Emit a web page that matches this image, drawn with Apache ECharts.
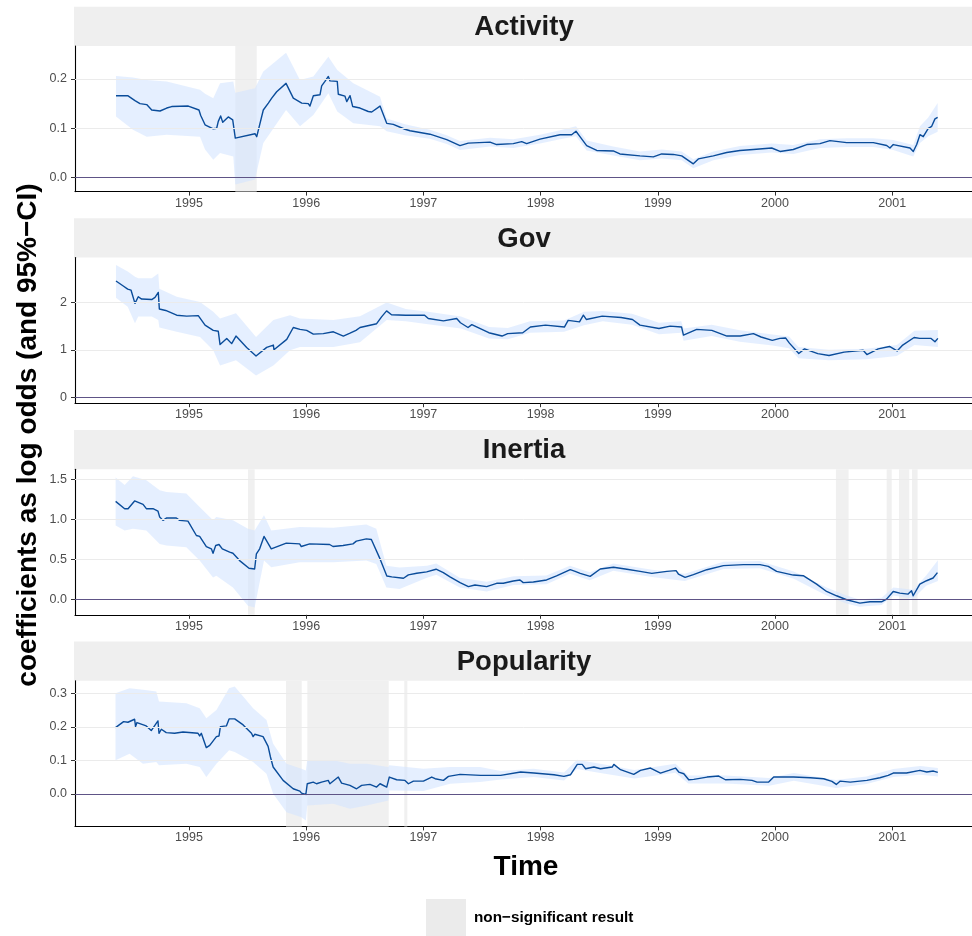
<!DOCTYPE html>
<html><head><meta charset="utf-8">
<script src="https://cdn.jsdelivr.net/npm/echarts@6/dist/echarts.min.js"></script>
<style>html,body{margin:0;padding:0;background:#fff}#chart{width:972px;height:936px}</style>
</head><body><div id="chart"></div>
<script>
// ---------- DATA (time in decimal years) ----------
const YEARS = [1995, 1996, 1997, 1998, 1999, 2000, 2001];

// Activity
const actT = [1994.377,1994.477,1994.539,1994.582,1994.639,1994.682,1994.753,1994.810,1994.852,1994.994,1995.085,1995.100,1995.137,1995.207,1995.236,1995.250,1995.270,1995.288,1995.335,1995.373,1995.395,1995.563,1995.578,1995.634,1995.677,1995.706,1995.748,1995.828,1995.890,1995.962,1996.018,1996.032,1996.061,1996.118,1996.132,1996.160,1996.189,1996.203,1996.265,1996.274,1996.331,1996.346,1996.374,1996.397,1996.459,1996.530,1996.559,1996.630,1996.687,1996.743,1996.843,1996.886,1997.056,1997.199,1997.312,1997.383,1997.568,1997.625,1997.767,1997.839,1997.881,1997.995,1998.166,1998.265,1998.302,1998.336,1998.393,1998.479,1998.620,1998.677,1998.848,1998.962,1999.033,1999.132,1999.204,1999.303,1999.346,1999.474,1999.588,1999.701,1999.815,1999.972,2000.043,2000.156,2000.271,2000.384,2000.469,2000.612,2000.839,2000.953,2000.981,2001.009,2001.152,2001.180,2001.209,2001.237,2001.265,2001.308,2001.337,2001.365,2001.388];
const actEst = [0.166,0.166,0.156,0.150,0.148,0.137,0.135,0.141,0.144,0.145,0.137,0.126,0.107,0.099,0.100,0.114,0.125,0.112,0.123,0.117,0.080,0.089,0.083,0.137,0.151,0.161,0.174,0.191,0.161,0.151,0.150,0.145,0.166,0.168,0.186,0.195,0.205,0.196,0.195,0.169,0.165,0.154,0.166,0.144,0.141,0.134,0.133,0.145,0.110,0.108,0.098,0.095,0.088,0.077,0.065,0.070,0.072,0.067,0.069,0.073,0.069,0.078,0.087,0.087,0.094,0.083,0.065,0.055,0.054,0.048,0.044,0.042,0.048,0.047,0.044,0.028,0.038,0.044,0.051,0.055,0.057,0.060,0.053,0.057,0.067,0.069,0.075,0.071,0.071,0.065,0.060,0.067,0.060,0.053,0.067,0.087,0.083,0.100,0.104,0.119,0.122];
const actBandT = [1994.377,1994.522,1994.639,1994.810,1995.094,1995.137,1995.207,1995.265,1995.378,1995.395,1995.563,1995.634,1995.828,1995.947,1996.061,1996.189,1996.265,1996.402,1996.630,1996.687,1996.843,1997.056,1997.199,1997.312,1997.568,1997.767,1997.995,1998.166,1998.302,1998.393,1998.620,1998.848,1999.033,1999.204,1999.303,1999.474,1999.701,1999.972,2000.156,2000.384,2000.612,2000.839,2001.009,2001.180,2001.237,2001.308,2001.388];
const actLo = [0.124,0.097,0.083,0.087,0.083,0.057,0.036,0.050,0.043,-0.014,-0.004,0.070,0.137,0.104,0.127,0.171,0.134,0.110,0.104,0.094,0.086,0.079,0.068,0.056,0.063,0.060,0.069,0.078,0.084,0.055,0.045,0.035,0.039,0.035,0.019,0.035,0.046,0.051,0.048,0.060,0.062,0.062,0.056,0.043,0.070,0.084,0.093];
const actHi = [0.206,0.203,0.198,0.195,0.178,0.170,0.161,0.191,0.195,0.172,0.181,0.215,0.253,0.198,0.205,0.245,0.218,0.191,0.164,0.120,0.108,0.097,0.086,0.074,0.081,0.078,0.087,0.096,0.104,0.075,0.063,0.053,0.057,0.053,0.037,0.053,0.064,0.069,0.066,0.078,0.080,0.080,0.076,0.066,0.104,0.122,0.151];
const actNS = [[1995.395, 1995.578]];

// Gov
const govT = [1994.377,1994.439,1994.477,1994.505,1994.539,1994.567,1994.596,1994.682,1994.710,1994.738,1994.747,1994.801,1994.895,1994.980,1995.079,1995.137,1995.207,1995.250,1995.265,1995.322,1995.364,1995.401,1995.492,1995.572,1995.663,1995.720,1995.725,1995.834,1995.890,1995.947,1996.004,1996.061,1996.146,1996.232,1996.317,1996.374,1996.425,1996.459,1996.601,1996.643,1996.686,1996.728,1996.848,1997.010,1997.042,1997.171,1997.284,1997.316,1997.381,1997.413,1997.558,1997.671,1997.719,1997.848,1997.913,1998.042,1998.203,1998.235,1998.332,1998.365,1998.390,1998.526,1998.687,1998.784,1998.848,1999.010,1999.106,1999.203,1999.219,1999.332,1999.461,1999.590,1999.703,1999.816,1999.881,1999.977,2000.042,2000.090,2000.123,2000.203,2000.252,2000.365,2000.461,2000.590,2000.752,2000.784,2000.881,2000.977,2001.042,2001.090,2001.187,2001.235,2001.332,2001.365,2001.390];
const govEst = [2.451,2.345,2.28,2.26,1.98,2.12,2.07,2.06,2.106,2.21,1.86,1.83,1.73,1.71,1.72,1.52,1.41,1.39,1.11,1.24,1.13,1.29,1.05,0.87,1.05,1.10,1.00,1.22,1.47,1.43,1.41,1.33,1.34,1.38,1.29,1.35,1.41,1.47,1.55,1.695,1.82,1.74,1.73,1.73,1.66,1.61,1.66,1.57,1.47,1.53,1.36,1.29,1.34,1.36,1.48,1.52,1.48,1.62,1.59,1.73,1.64,1.71,1.68,1.64,1.52,1.45,1.50,1.48,1.31,1.43,1.41,1.29,1.29,1.34,1.27,1.20,1.24,1.25,1.14,0.92,1.02,0.92,0.88,0.95,0.99,0.90,1.02,1.07,0.975,1.10,1.26,1.24,1.24,1.17,1.24];
const govBandT = [1994.377,1994.477,1994.539,1994.567,1994.682,1994.738,1994.747,1994.895,1995.094,1995.207,1995.265,1995.401,1995.572,1995.720,1995.862,1995.947,1996.232,1996.459,1996.687,1996.85,1997.04,1997.32,1997.56,1997.72,1997.91,1998.20,1998.37,1998.53,1998.78,1999.01,1999.20,1999.22,1999.46,1999.70,1999.98,2000.12,2000.20,2000.46,2000.78,2001.04,2001.19,2001.39];
const govLo = [2.10,1.91,1.56,1.70,1.70,1.63,1.47,1.38,1.27,0.99,0.67,0.78,0.46,0.67,0.99,1.06,1.06,1.16,1.63,1.60,1.54,1.45,1.24,1.22,1.36,1.38,1.52,1.60,1.53,1.33,1.36,1.19,1.29,1.17,1.09,1.03,0.82,0.78,0.80,0.87,1.10,1.06];
const govHi = [2.79,2.65,2.54,2.51,2.51,2.61,2.29,2.12,2.01,1.80,1.66,1.77,1.27,1.63,1.73,1.66,1.63,1.71,2.00,1.86,1.80,1.70,1.48,1.46,1.60,1.62,1.80,1.82,1.76,1.57,1.60,1.45,1.53,1.41,1.32,1.28,1.06,1.00,1.02,1.10,1.40,1.42];
const govNS = [];

// Inertia
const inT = [1994.374,1994.451,1994.480,1994.536,1994.608,1994.636,1994.693,1994.735,1994.750,1994.778,1994.807,1994.892,1994.920,1994.991,1995.063,1995.091,1995.148,1995.191,1995.205,1995.228,1995.256,1995.284,1995.347,1995.375,1995.432,1995.512,1995.560,1995.575,1995.603,1995.640,1995.702,1995.830,1995.944,1995.958,1996.030,1996.200,1996.229,1996.314,1996.399,1996.428,1996.513,1996.556,1996.631,1996.688,1996.730,1996.830,1996.844,1996.872,1996.943,1997.028,1997.108,1997.170,1997.227,1997.313,1997.384,1997.440,1997.540,1997.625,1997.682,1997.767,1997.824,1997.852,1997.938,1998.051,1998.136,1998.253,1998.295,1998.338,1998.423,1998.509,1998.622,1998.736,1998.849,1998.949,1999.077,1999.156,1999.176,1999.233,1999.304,1999.418,1999.560,1999.730,1999.872,1999.943,2000.014,2000.156,2000.241,2000.355,2000.440,2000.525,2000.611,2000.724,2000.810,2000.909,2000.952,2001.009,2001.065,2001.136,2001.165,2001.179,2001.236,2001.293,2001.349,2001.386];
const inEst = [1.227,1.135,1.135,1.232,1.19,1.135,1.135,1.106,1.03,0.989,1.018,1.018,0.989,0.98,0.80,0.788,0.662,0.633,0.578,0.675,0.687,0.633,0.591,0.578,0.486,0.39,0.381,0.57,0.633,0.788,0.633,0.704,0.695,0.662,0.695,0.687,0.662,0.675,0.695,0.729,0.758,0.75,0.504,0.294,0.282,0.265,0.244,0.307,0.328,0.345,0.378,0.336,0.282,0.21,0.16,0.181,0.16,0.202,0.202,0.231,0.244,0.21,0.218,0.244,0.294,0.372,0.351,0.326,0.289,0.381,0.402,0.377,0.351,0.326,0.351,0.36,0.318,0.276,0.31,0.372,0.423,0.435,0.435,0.414,0.351,0.305,0.297,0.192,0.10,0.046,-0.004,-0.046,-0.029,-0.029,0.004,0.10,0.079,0.067,0.109,0.046,0.192,0.234,0.268,0.335];
const inBandT = [1994.374,1994.451,1994.522,1994.636,1994.750,1994.807,1994.977,1995.091,1995.205,1995.233,1995.375,1995.503,1995.560,1995.640,1995.702,1995.944,1996.229,1996.513,1996.598,1996.684,1996.797,1997.03,1997.11,1997.31,1997.54,1997.77,1998.05,1998.25,1998.42,1998.62,1998.95,1999.23,1999.56,1999.87,2000.16,2000.44,2000.61,2000.72,2000.91,2001.01,2001.18,2001.29,2001.39];
const inLo = [0.926,0.863,0.884,0.863,0.695,0.675,0.654,0.486,0.276,0.297,0.151,-0.08,-0.10,0.486,0.402,0.465,0.465,0.486,0.444,0.151,0.13,0.27,0.31,0.15,0.10,0.18,0.19,0.32,0.24,0.36,0.28,0.23,0.38,0.39,0.26,0.05,-0.05,-0.09,-0.07,0.05,0.01,0.17,0.23];
const inHi = [1.525,1.43,1.54,1.49,1.366,1.345,1.324,1.156,0.989,1.031,0.989,0.884,0.863,1.052,0.863,0.905,0.896,0.938,0.884,0.423,0.40,0.42,0.45,0.27,0.22,0.29,0.30,0.42,0.34,0.45,0.37,0.32,0.47,0.48,0.35,0.15,0.05,0.00,0.02,0.15,0.12,0.30,0.49];
const inNS = [[1995.503,1995.560],[2000.520,2000.628],[2000.953,2000.996],[2001.058,2001.146],[2001.169,2001.217]];

// Popularity
const popT = [1994.373,1994.442,1994.479,1994.536,1994.544,1994.556,1994.635,1994.678,1994.735,1994.744,1994.764,1994.806,1994.877,1994.949,1995.077,1995.091,1995.105,1995.148,1995.177,1995.234,1995.256,1995.268,1995.319,1995.342,1995.390,1995.462,1995.533,1995.547,1995.561,1995.632,1995.675,1995.695,1995.718,1995.803,1995.889,1995.946,1995.960,1995.997,1996.009,1996.060,1996.088,1996.131,1996.188,1996.202,1996.274,1996.302,1996.373,1996.430,1996.473,1996.544,1996.601,1996.630,1996.687,1996.709,1996.772,1996.843,1996.872,1996.915,1997.000,1997.071,1997.100,1997.171,1997.214,1997.313,1997.489,1997.659,1997.830,1997.943,1998.114,1998.199,1998.256,1998.313,1998.355,1998.384,1998.455,1998.511,1998.611,1998.625,1998.682,1998.795,1998.852,1998.938,1999.023,1999.094,1999.151,1999.179,1999.222,1999.264,1999.307,1999.420,1999.520,1999.577,1999.705,1999.804,1999.847,1999.946,1999.989,2000.159,2000.301,2000.415,2000.486,2000.523,2000.557,2000.642,2000.784,2000.895,2000.966,2001.009,2001.122,2001.236,2001.295,2001.352,2001.389];
const popEst = [0.198,0.216,0.214,0.223,0.201,0.213,0.203,0.189,0.218,0.181,0.193,0.183,0.181,0.185,0.181,0.173,0.181,0.138,0.145,0.171,0.173,0.201,0.203,0.224,0.224,0.206,0.181,0.171,0.178,0.171,0.142,0.110,0.080,0.040,0.015,0.008,0.002,-0.002,0.030,0.035,0.030,0.035,0.040,0.030,0.050,0.032,0.025,0.015,0.025,0.028,0.020,0.030,0.020,0.050,0.042,0.040,0.030,0.038,0.038,0.050,0.045,0.040,0.052,0.058,0.055,0.055,0.065,0.062,0.057,0.052,0.057,0.088,0.088,0.075,0.080,0.075,0.080,0.088,0.072,0.058,0.070,0.077,0.062,0.070,0.077,0.065,0.060,0.042,0.043,0.050,0.053,0.042,0.043,0.040,0.035,0.035,0.050,0.050,0.048,0.045,0.037,0.028,0.038,0.035,0.040,0.048,0.055,0.062,0.062,0.070,0.065,0.068,0.064];
const popBandT = [1994.373,1994.493,1994.607,1994.721,1994.744,1994.977,1995.091,1995.148,1995.234,1995.342,1995.390,1995.547,1995.661,1995.718,1995.832,1995.960,1995.997,1996.009,1996.231,1996.373,1996.516,1996.701,1996.709,1997.000,1997.228,1997.484,1997.66,1997.94,1998.20,1998.31,1998.51,1998.80,1999.15,1999.26,1999.58,1999.95,2000.16,2000.52,2000.78,2001.01,2001.24,2001.39];
const popLo = [0.100,0.120,0.090,0.095,0.085,0.090,0.080,0.050,0.090,0.130,0.125,0.095,0.060,0.000,-0.055,-0.070,-0.080,-0.035,-0.030,-0.045,-0.035,-0.020,0.010,0.008,0.030,0.035,0.043,0.050,0.040,0.074,0.062,0.046,0.063,0.031,0.031,0.024,0.039,0.017,0.029,0.050,0.057,0.052];
const popHi = [0.301,0.316,0.311,0.306,0.276,0.271,0.256,0.226,0.251,0.316,0.321,0.256,0.221,0.150,0.090,0.075,0.070,0.100,0.100,0.090,0.090,0.080,0.085,0.075,0.080,0.080,0.068,0.075,0.064,0.102,0.090,0.071,0.090,0.055,0.055,0.047,0.062,0.041,0.052,0.074,0.083,0.077];
const popNS = [[1995.828,1995.962],[1996.010,1996.704],[1996.837,1996.863]];

// Facet labels and y tick labels
const FACETS = ['Activity', 'Gov', 'Inertia', 'Popularity'];
const actTicks = [0, 0.1, 0.2];
const govTicks = [0, 1, 2];
const inTicks = [0, 0.5, 1.0, 1.5];
const popTicks = [0, 0.1, 0.2, 0.3];

// ---------- LAYOUT / STYLE ----------
const FONT = '"Liberation Sans", Arial, Helvetica, sans-serif';
const X_MIN = 1994.0273, X_MAX = 2001.681;
const GRID_TOP = [46, 257.6, 469.2, 680.8], GRID_H = 145.6, STRIP_H = 39.3;
const LINE_COL = '#0a4c9a', BAND_COL = 'rgba(212,229,255,0.6)', NS_COL = '#f0f0f0';

const panels = [
  {name: FACETS[0], t: actT, est: actEst, bt: actBandT, lo: actLo, hi: actHi, ns: actNS, ticks: actTicks, dec: 1, yMin: -0.0283, yMax: 0.2667},
  {name: FACETS[1], t: govT, est: govEst, bt: govBandT, lo: govLo, hi: govHi, ns: govNS, ticks: govTicks, dec: 0, yMin: -0.127, yMax: 2.945},
  {name: FACETS[2], t: inT, est: inEst, bt: inBandT, lo: inLo, hi: inHi, ns: inNS, ticks: inTicks, dec: 1, yMin: -0.192, yMax: 1.629},
  {name: FACETS[3], t: popT, est: popEst, bt: popBandT, lo: popLo, hi: popHi, ns: popNS, ticks: popTicks, dec: 1, yMin: -0.0976, yMax: 0.338}
];

const grid = [], xAxis = [], yAxis = [], series = [], graphic = [];
const labelStyle = {color: '#4d4d4d', fontSize: 12.5, fontFamily: FONT};

panels.forEach((p, i) => {
  grid.push({left: 75, right: 0, top: GRID_TOP[i], height: GRID_H});
  xAxis.push({
    type: 'value', gridIndex: i, min: X_MIN, max: X_MAX,
    axisLine: {show: true, onZero: false, lineStyle: {color: '#000', width: 1.1}},
    axisTick: {show: true, customValues: YEARS, length: 4, lineStyle: {color: '#333', width: 1}},
    axisLabel: Object.assign({customValues: YEARS, margin: 5, formatter: v => String(Math.round(v))}, labelStyle),
    splitLine: {show: false}
  });
  yAxis.push({
    type: 'value', gridIndex: i, min: p.yMin, max: p.yMax,
    axisLine: {show: true, onZero: false, lineStyle: {color: '#000', width: 1.1}},
    axisTick: {show: true, customValues: p.ticks, length: 4, lineStyle: {color: '#333', width: 1}},
    axisLabel: Object.assign({customValues: p.ticks, margin: 8, formatter: v => Number(v).toFixed(p.dec)}, labelStyle),
    splitLine: {show: false}
  });
  const n = Math.min(p.t.length, p.est.length);
  const estData = [];
  for (let k = 0; k < n; k++) estData.push([p.t[k], p.est[k]]);
  const nb = Math.min(p.bt.length, p.lo.length, p.hi.length);
  const bandData = [];
  for (let k = 0; k < nb; k++) bandData.push([p.bt[k], p.lo[k], p.hi[k]]);

  // background: non-significant areas + grid lines
  series.push({
    type: 'line', xAxisIndex: i, yAxisIndex: i, data: estData, silent: true, z: 1,
    showSymbol: false, symbol: 'none', lineStyle: {opacity: 0}, itemStyle: {opacity: 0},
    markArea: {silent: true, itemStyle: {color: NS_COL}, data: p.ns.map(r => [{xAxis: r[0]}, {xAxis: r[1]}])},
    markLine: {silent: true, symbol: ['none', 'none'], label: {show: false}, animation: false,
      lineStyle: {color: '#ebebeb', width: 1, type: 'solid'},
      data: p.ticks.filter(v => v !== 0).map(v => ({yAxis: v}))}
  });
  // confidence band
  series.push({
    type: 'custom', xAxisIndex: i, yAxisIndex: i, data: bandData, silent: true, z: 2,
    encode: {x: 0, y: [1, 2]},
    renderItem: (params, api) => {
      if (params.dataIndex !== 0) return null;
      const pts = [];
      for (let k = 0; k < bandData.length; k++) pts.push(api.coord([bandData[k][0], bandData[k][2]]));
      for (let k = bandData.length - 1; k >= 0; k--) pts.push(api.coord([bandData[k][0], bandData[k][1]]));
      return {type: 'polygon', shape: {points: pts}, style: {fill: BAND_COL}};
    }
  });
  // estimate line + zero line
  series.push({
    type: 'line', xAxisIndex: i, yAxisIndex: i, data: estData, silent: true, z: 3,
    showSymbol: false, symbol: 'none', lineStyle: {color: LINE_COL, width: 1.4, join: 'round'},
    markLine: {silent: true, symbol: ['none', 'none'], label: {show: false}, animation: false,
      lineStyle: {color: '#5e5486', width: 1.2, type: 'solid'}, data: [{yAxis: 0}]}
  });

  // strip
  graphic.push({type: 'rect', shape: {x: 74, y: GRID_TOP[i] - STRIP_H, width: 898, height: STRIP_H}, style: {fill: '#efefef'}, silent: true});
  graphic.push({type: 'text', x: 524, y: GRID_TOP[i] - STRIP_H / 2 + 1, silent: true,
    style: {text: p.name, font: 'bold 27.5px ' + FONT, fill: '#1a1a1a', align: 'center', verticalAlign: 'middle', textAlign: 'center', textVerticalAlign: 'middle'}});
});

graphic.push({type: 'text', x: 28, y: 435, rotation: Math.PI / 2, silent: true,
  style: {text: 'coefficients as log odds (and 95%\u2212CI)', font: 'bold 28px ' + FONT, fill: '#000', align: 'center', verticalAlign: 'middle', textAlign: 'center', textVerticalAlign: 'middle'}});
graphic.push({type: 'text', x: 526, y: 867, silent: true,
  style: {text: 'Time', font: 'bold 28px ' + FONT, fill: '#000', align: 'center', verticalAlign: 'middle', textAlign: 'center', textVerticalAlign: 'middle'}});
graphic.push({type: 'rect', shape: {x: 426, y: 899, width: 40, height: 40}, style: {fill: '#ebebeb'}, silent: true});
graphic.push({type: 'text', x: 474, y: 918, silent: true,
  style: {text: 'non\u2212significant result', font: 'bold 15.3px ' + FONT, fill: '#000', align: 'left', verticalAlign: 'middle', textAlign: 'left', textVerticalAlign: 'middle'}});

const chart = echarts.init(document.getElementById('chart'), null, {renderer: 'canvas'});
chart.setOption({animation: false, backgroundColor: '#fff', grid, xAxis, yAxis, series, graphic});
</script>
</body></html>
